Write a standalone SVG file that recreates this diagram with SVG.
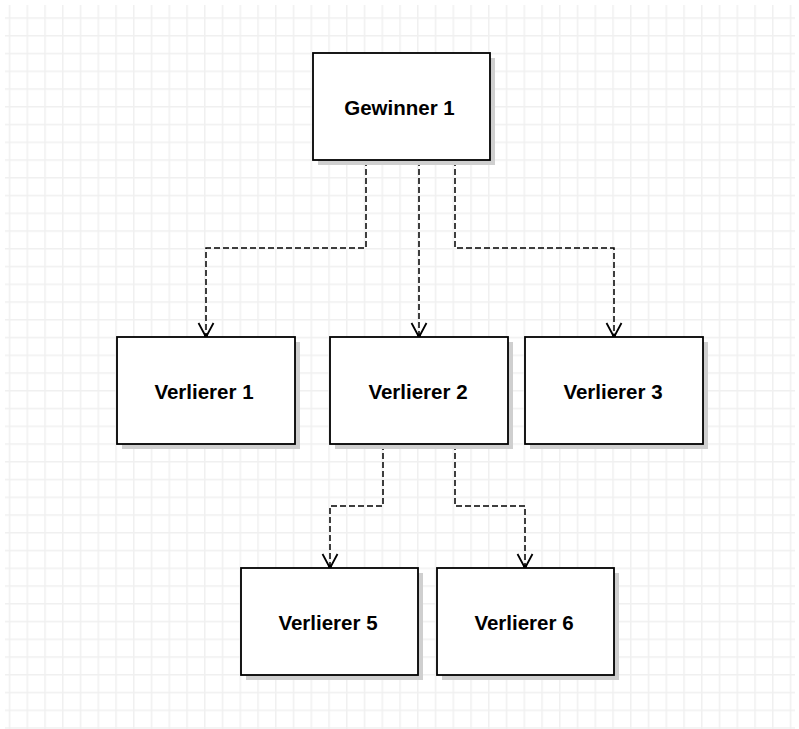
<svg xmlns="http://www.w3.org/2000/svg" width="799" height="729" viewBox="0 0 799 729">
<defs>
<pattern id="grid" patternUnits="userSpaceOnUse" x="8.75" y="17.25" width="17.75" height="17.75">
<path d="M0.75 0 V17.75 M0 0.75 H17.75" stroke="#f0f0f0" stroke-width="1.5" fill="none"/>
</pattern>
<marker id="arr" markerUnits="userSpaceOnUse" viewBox="-16 -9 18 18" refX="0" refY="0" markerWidth="18" markerHeight="18" orient="auto" overflow="visible">
<path d="M-14,-7.5 L0,0 L-14,7.5" fill="none" stroke="#000" stroke-width="1.8"/>
<circle cx="-1.5" cy="0" r="2" fill="#000"/>
</marker>
</defs>
<style>
.shadow{fill:#cfcfcf}
.box{fill:#fff;stroke:#000;stroke-width:1.8}
.lbl{font-family:"Liberation Sans",Arial,sans-serif;font-weight:bold;font-size:20.5px;text-anchor:middle;fill:#000}
.conn{fill:none;stroke:#000;stroke-width:1.5;stroke-dasharray:6 3;marker-end:url(#arr)}
</style>
<rect width="799" height="729" fill="#fff"/>
<rect x="5" y="5" width="790" height="724" fill="url(#grid)"/>

<g id="connectors">
<path class="conn" d="M366 160 V248 H206 V337"/>
<path class="conn" d="M419 160 V337"/>
<path class="conn" d="M455 160 V248 H614 V337"/>
<path class="conn" d="M383 444 V506 H330 V568"/>
<path class="conn" d="M455 444 V506 H525 V568"/>
</g>

<g id="gewinner1">
<rect class="shadow" x="318" y="58" width="177" height="107"/>
<rect class="box" x="313" y="53" width="177" height="107"/>
<text class="lbl" x="399.5" y="114.5">Gewinner 1</text>
</g>
<g id="verlierer1">
<rect class="shadow" x="122" y="342" width="178" height="107"/>
<rect class="box" x="117" y="337" width="178" height="107"/>
<text class="lbl" x="204" y="398.5">Verlierer 1</text>
</g>
<g id="verlierer2">
<rect class="shadow" x="335" y="342" width="178" height="107"/>
<rect class="box" x="330" y="337" width="178" height="107"/>
<text class="lbl" x="418" y="398.5">Verlierer 2</text>
</g>
<g id="verlierer3">
<rect class="shadow" x="530" y="342" width="178" height="107"/>
<rect class="box" x="525" y="337" width="178" height="107"/>
<text class="lbl" x="613" y="398.5">Verlierer 3</text>
</g>
<g id="verlierer5">
<rect class="shadow" x="246" y="573" width="177" height="107"/>
<rect class="box" x="241" y="568" width="177" height="107"/>
<text class="lbl" x="328" y="629.5">Verlierer 5</text>
</g>
<g id="verlierer6">
<rect class="shadow" x="442" y="573" width="177" height="107"/>
<rect class="box" x="437" y="568" width="177" height="107"/>
<text class="lbl" x="524" y="629.5">Verlierer 6</text>
</g>
</svg>
